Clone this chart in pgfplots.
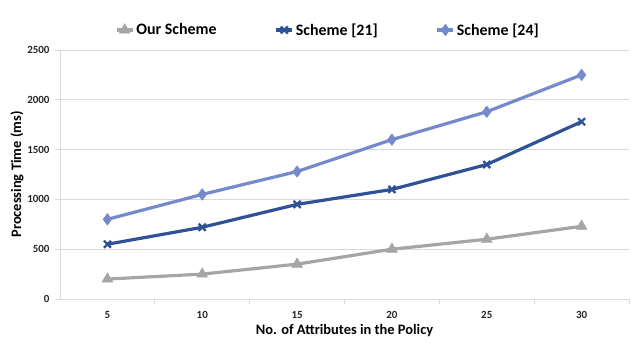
\documentclass[border=0pt]{standalone}
\usepackage{pgfplots}
\pgfplotsset{compat=1.18}
\usepackage{fontspec}
\setmainfont{Carlito}
\definecolor{ourgray}{RGB}{165,165,165}
\definecolor{darkblue}{RGB}{47,82,150}
\definecolor{lightblue}{RGB}{116,138,204}
\definecolor{gridgray}{RGB}{217,217,217}
\begin{document}
\begin{tikzpicture}
\useasboundingbox (0,0) rectangle (631bp,345bp);
\begin{axis}[
  at={(60bp,46bp)}, anchor=south west,
  scale only axis, width=569bp, height=249bp,
  xmin=2.5, xmax=32.5, ymin=0, ymax=2500,
  xtick={5,10,15,20,25,30},
  minor xtick={7.5,12.5,17.5,22.5,27.5,32.5},
  ytick={0,500,1000,1500,2000,2500},
  major x tick style={draw=none},
  minor x tick style={draw=gridgray, line width=0.8pt},
  minor tick length=5bp,
  x tick label style={yshift=-4bp},
  y tick label style={xshift=-2bp},
  ymajorgrids, grid style={gridgray, line width=0.8pt},
  major y tick style={draw=gridgray, line width=0.8pt},
  major tick length=5bp,
  tick align=outside,
  axis x line*=bottom, axis y line*=left,
  x axis line style={gridgray, line width=0.8pt, -},
  y axis line style={gridgray, line width=0.8pt, -},
  tick label style={font=\bfseries\fontsize{11}{12}\selectfont, text=black!85},
  /pgf/number format/assume math mode=true,
  /pgf/number format/set thousands separator={},
  xlabel={No. of Attributes in the Policy},
  ylabel={Processing Time (ms)},
  label style={font=\bfseries\fontsize{14.5}{16}\selectfont},
  xlabel style={at={(axis description cs:0.5,0)}, anchor=center, yshift=-32bp},
  ylabel style={at={(axis description cs:0,0.5)}, anchor=center, yshift=43bp},
  legend columns=3,
  legend style={at={(328bp-60bp,299bp-46bp+16bp)}, anchor=center, draw=none,
    font=\bfseries\fontsize{16}{18}\selectfont, inner sep=0pt,
    /tikz/every even column/.append style={column sep=56bp}},
  legend cell align=left,
  legend image code/.code={%
    \draw[mark repeat=2, mark phase=2] plot coordinates {(0bp,0bp) (8bp,0bp) (16bp,0bp)};},
  clip=false,
]
\addplot[ourgray, line width=3.2pt, mark=triangle*, mark size=6.3pt, mark options={line width=0.5pt}]
  coordinates {(5,200) (10,250) (15,350) (20,500) (25,600) (30,730)};
\addlegendentry{Our Scheme}
\addplot[darkblue, line width=3.2pt, mark=x, mark size=5pt, mark options={line width=2.3pt}]
  coordinates {(5,550) (10,720) (15,950) (20,1100) (25,1350) (30,1780)};
\addlegendentry{Scheme [21]}
\addplot[lightblue, line width=3.2pt, mark=diamond*, mark size=5.8pt, mark options={line width=0.5pt}]
  coordinates {(5,800) (10,1050) (15,1280) (20,1600) (25,1880) (30,2250)};
\addlegendentry{Scheme [24]}
\end{axis}
\end{tikzpicture}
\end{document}
